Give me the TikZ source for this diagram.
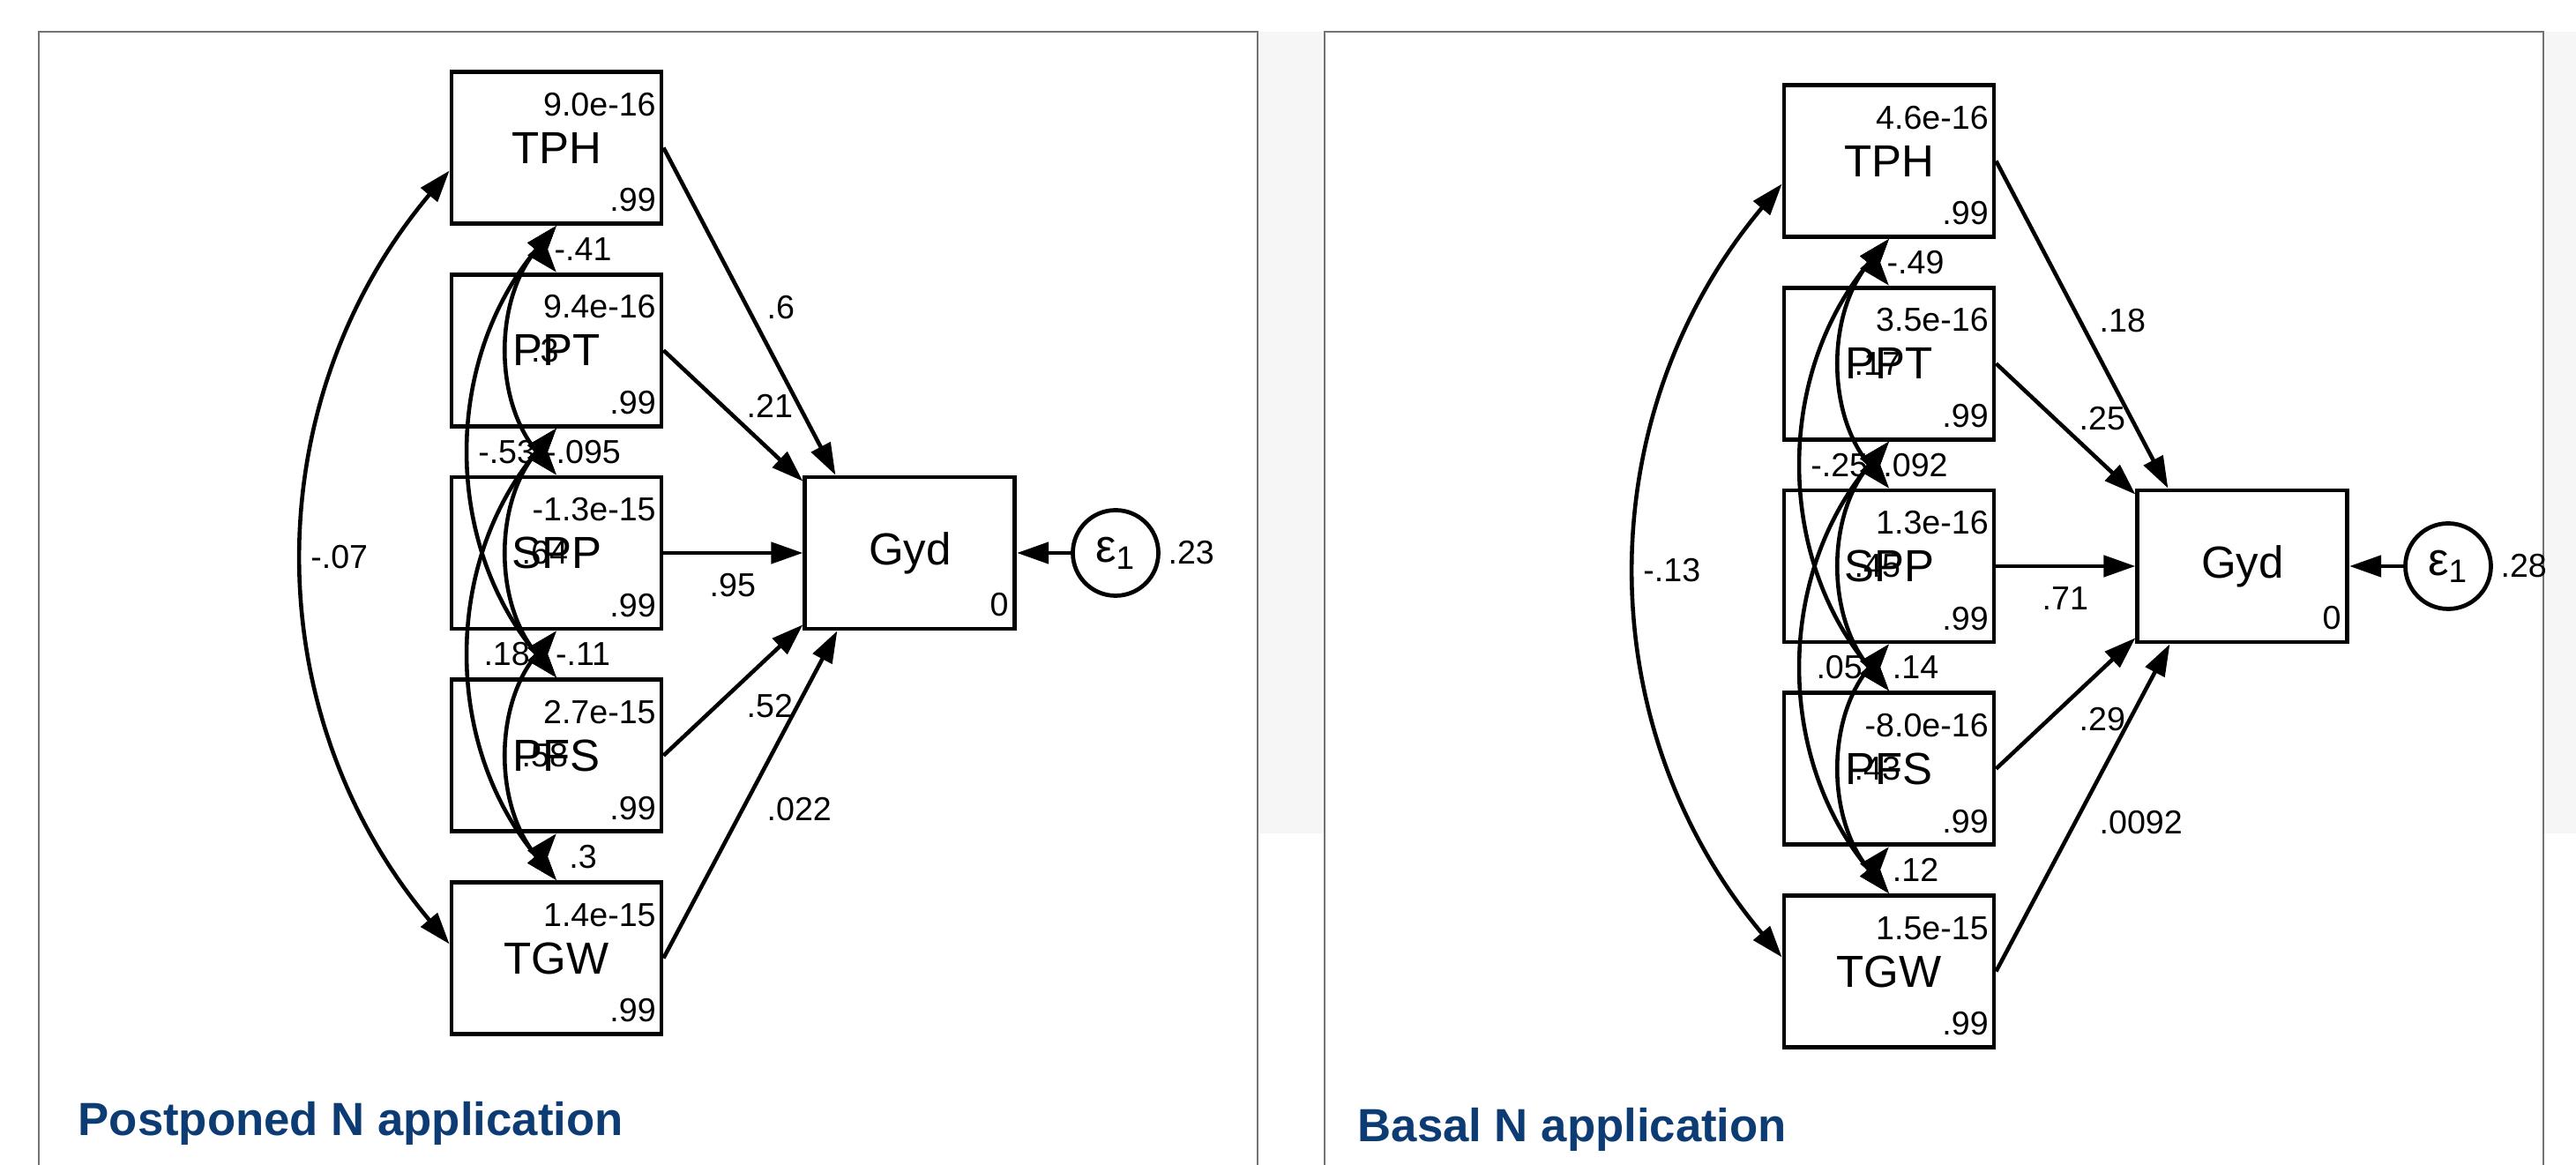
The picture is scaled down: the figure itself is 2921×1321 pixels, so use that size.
\documentclass[tikz,border=0pt]{standalone}
\usepackage{fontspec}
\setmainfont{Liberation Sans}
\usetikzlibrary{arrows.meta,positioning}
\definecolor{ttlblue}{RGB}{12,60,115}
\definecolor{bggray}{RGB}{246,246,246}

\begin{document}
\begin{tikzpicture}[
    x=0.1mm, y=-0.1mm,
    >={Triangle[length=3.6mm, width=2.4mm]},
    obs/.style={draw, line width=1.35pt, fill=white, minimum width=23.8mm, minimum height=17.2mm, inner sep=0pt, font=\fontsize{14.5}{16}\selectfont},
    err/.style={draw, circle, line width=1.35pt, fill=white, minimum size=9.7mm, inner sep=0pt, font=\fontsize{15}{16}\selectfont},
    num/.style={inner sep=0pt, font=\fontsize{10.7}{12}\selectfont},
    reg/.style={->, line width=1.3pt},
    cov/.style={<->, line width=1.3pt, bend right=40},
    covlbl/.style={num, midway, xshift=4mm},
    panel/.style={draw=black!55, line width=0.6pt},
    ttl/.style={anchor=base west, inner sep=0pt, text=ttlblue, font=\fontsize{15}{18}\selectfont\bfseries}
]
\useasboundingbox (0,0) rectangle (2921,1321);

% --- page background and panel frames ---
\fill[bggray] (1426,36) rectangle (2921,945);
\fill[white] (1502,36) rectangle (2884,1330);
\draw[panel] (44,1330) -- (44,36) -- (1426,36) -- (1426,1330);
\draw[panel] (1502,1330) -- (1502,36) -- (2884,36) -- (2884,1330);

% --- Postponed N application ---
\begin{scope}[name prefix=L-]
\node[obs] (tph) at (631,167.5) {TPH};
\node[obs, below=5.3mm of tph] (ppt) {PPT};
\node[obs, below=5.3mm of ppt] (spp) {SPP};
\node[obs, below=5.3mm of spp] (pfs) {PFS};
\node[obs, below=5.3mm of pfs] (tgw) {TGW};
\node[obs, right=15.8mm of spp] (gyd) {Gyd};
\node[err, right=6.1mm of gyd] (e1) {ε\textsubscript{1}};

\foreach \n/\m in {tph/9.0e-16, ppt/9.4e-16, spp/-1.3e-15, pfs/2.7e-15, tgw/1.4e-15} {
  \node[num, anchor=base east] (\n-m) at ([xshift=-0.8mm, yshift=-5.2mm]\n.north east) {\m};
  \node[num, anchor=base east] (\n-v) at ([xshift=-0.8mm, yshift=1.6mm]\n.south east) {.99};
}
\node[num, anchor=base east] (gyd-m) at ([xshift=-0.9mm, yshift=1.7mm]gyd.south east) {0};
\node[num, right=0.8mm of e1] (e1-v) {.23};

\draw[reg] (tph.east) -- ([xshift=3.7mm]gyd.north west) node[num, pos=.5, anchor=west, xshift=1.75mm, yshift=0.5mm] (c-tph) {.6};
\draw[reg] (ppt.east) -- ([yshift=-0.7mm]gyd.north west) node[num, pos=.5, anchor=west, xshift=1.3mm, yshift=1.15mm] (c-ppt) {.21};
\draw[reg] (spp.east) -- (gyd.west) node[num, pos=.5, anchor=west, xshift=-2.9mm, yshift=-3.7mm] (c-spp) {.95};
\draw[reg] (pfs.east) -- ([yshift=0.7mm]gyd.south west) node[num, pos=.5, anchor=west, xshift=1.3mm, yshift=-1.85mm] (c-pfs) {.52};
\draw[reg] (tgw.east) -- ([xshift=3.9mm]gyd.south west) node[num, pos=.5, anchor=west, xshift=1.65mm, yshift=-1.65mm] (c-tgw) {.022};
\draw[reg] (e1) -- (gyd);

% covariances
\draw[cov] (tph.south) to node[covlbl] (v12) {-.41} (ppt.north);
\draw[cov] (ppt.south) to node[covlbl] (v23) {-.095} (spp.north);
\draw[cov] (spp.south) to node[covlbl] (v34) {-.11} (pfs.north);
\draw[cov] (pfs.south) to node[covlbl] (v45) {.3} (tgw.north);
\draw[cov] (tph.south) to node[covlbl] (v13) {.3} (spp.north);
\draw[cov] (ppt.south) to node[covlbl] (v24) {.64} (pfs.north);
\draw[cov] (spp.south) to node[covlbl] (v35) {.58} (tgw.north);
\draw[cov] (tph.south) to node[covlbl] (v14) {-.53} (pfs.north);
\draw[cov] (ppt.south) to node[covlbl] (v25) {.18} (tgw.north);
\draw[cov] ([yshift=-2.6mm]tph.west) to node[covlbl] (v15) {-.07} ([yshift=1.6mm]tgw.west);
\end{scope}

% --- Basal N application ---
\begin{scope}[shift={(1511,15)}, name prefix=R-]
\node[obs] (tph) at (631,167.5) {TPH};
\node[obs, below=5.3mm of tph] (ppt) {PPT};
\node[obs, below=5.3mm of ppt] (spp) {SPP};
\node[obs, below=5.3mm of spp] (pfs) {PFS};
\node[obs, below=5.3mm of pfs] (tgw) {TGW};
\node[obs, right=15.8mm of spp] (gyd) {Gyd};
\node[err, right=6.1mm of gyd] (e1) {ε\textsubscript{1}};

\foreach \n/\m in {tph/4.6e-16, ppt/3.5e-16, spp/1.3e-16, pfs/-8.0e-16, tgw/1.5e-15} {
  \node[num, anchor=base east] (\n-m) at ([xshift=-0.8mm, yshift=-5.2mm]\n.north east) {\m};
  \node[num, anchor=base east] (\n-v) at ([xshift=-0.8mm, yshift=1.6mm]\n.south east) {.99};
}
\node[num, anchor=base east] (gyd-m) at ([xshift=-0.9mm, yshift=1.7mm]gyd.south east) {0};
\node[num, right=0.8mm of e1] (e1-v) {.28};

\draw[reg] (tph.east) -- ([xshift=3.7mm]gyd.north west) node[num, pos=.5, anchor=west, xshift=1.75mm, yshift=0.5mm] (c-tph) {.18};
\draw[reg] (ppt.east) -- ([yshift=-0.7mm]gyd.north west) node[num, pos=.5, anchor=west, xshift=1.3mm, yshift=1.15mm] (c-ppt) {.25};
\draw[reg] (spp.east) -- (gyd.west) node[num, pos=.5, anchor=west, xshift=-2.9mm, yshift=-3.7mm] (c-spp) {.71};
\draw[reg] (pfs.east) -- ([yshift=0.7mm]gyd.south west) node[num, pos=.5, anchor=west, xshift=1.3mm, yshift=-1.85mm] (c-pfs) {.29};
\draw[reg] (tgw.east) -- ([xshift=3.9mm]gyd.south west) node[num, pos=.5, anchor=west, xshift=1.65mm, yshift=-1.65mm] (c-tgw) {.0092};
\draw[reg] (e1) -- (gyd);

% covariances
\draw[cov] (tph.south) to node[covlbl] (v12) {-.49} (ppt.north);
\draw[cov] (ppt.south) to node[covlbl] (v23) {.092} (spp.north);
\draw[cov] (spp.south) to node[covlbl] (v34) {.14} (pfs.north);
\draw[cov] (pfs.south) to node[covlbl] (v45) {.12} (tgw.north);
\draw[cov] (tph.south) to node[covlbl] (v13) {.17} (spp.north);
\draw[cov] (ppt.south) to node[covlbl] (v24) {.45} (pfs.north);
\draw[cov] (spp.south) to node[covlbl] (v35) {.43} (tgw.north);
\draw[cov] (tph.south) to node[covlbl] (v14) {-.25} (pfs.north);
\draw[cov] (ppt.south) to node[covlbl] (v25) {.05} (tgw.north);
\draw[cov] ([yshift=-2.6mm]tph.west) to node[covlbl] (v15) {-.13} ([yshift=1.6mm]tgw.west);
\end{scope}

\node[ttl] (ttl-l) at (88,1287) {Postponed N application};
\node[ttl] (ttl-r) at (1539,1294) {Basal N application};
\end{tikzpicture}
\end{document}
